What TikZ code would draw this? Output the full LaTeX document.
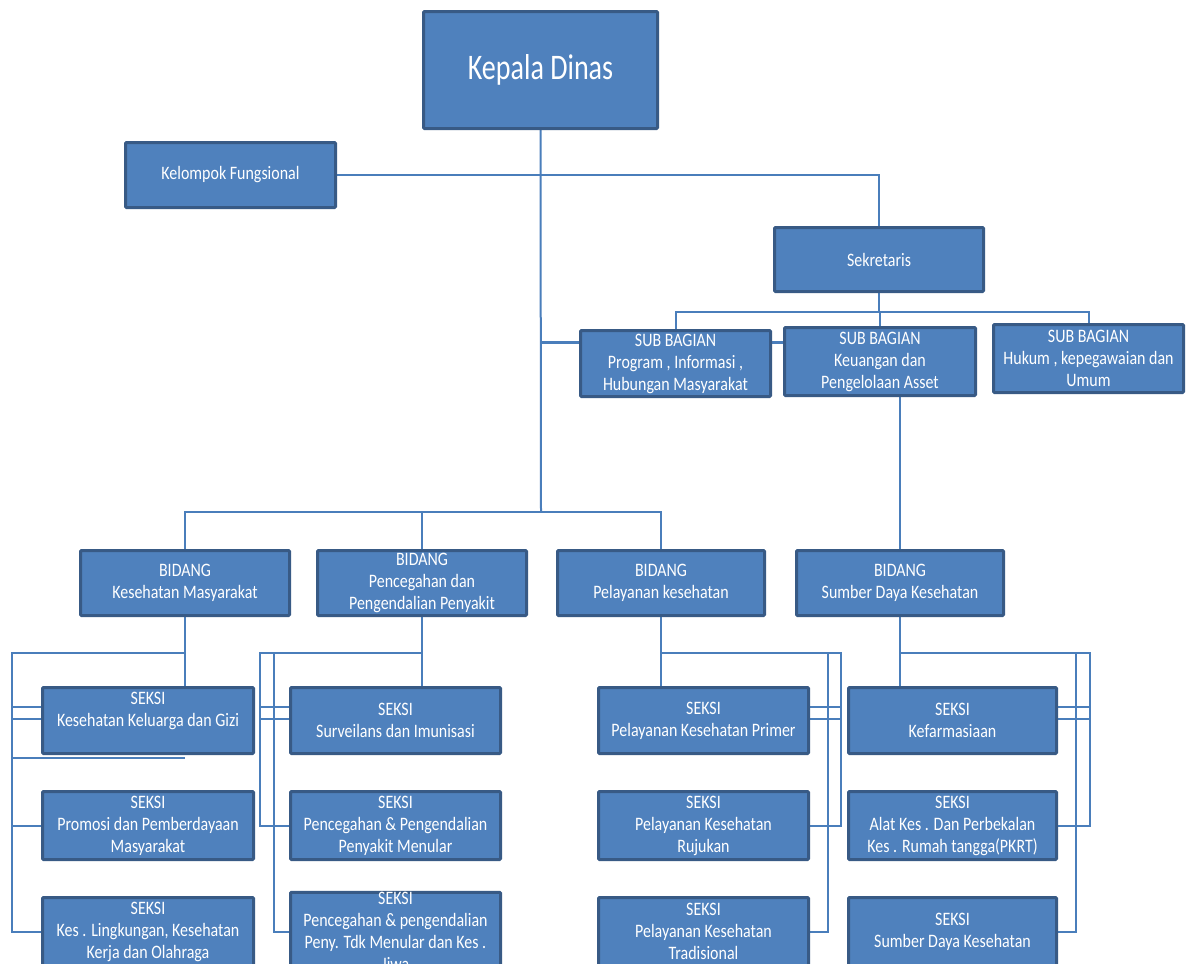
\documentclass[tikz,border=0pt]{standalone}
\usepackage{fontspec}
\setmainfont[FakeStretch=0.84]{Carlito}
\newfontfamily\bigfont[FakeStretch=0.78]{Carlito}
\pgfdeclarelayer{paper}
\pgfdeclarelayer{bg}
\pgfsetlayers{paper,bg,main}
\definecolor{boxfill}{HTML}{4F81BD}
\definecolor{boxline}{HTML}{385A85}
\definecolor{connc}{HTML}{4A7EBB}
\tikzset{
  box/.style={draw=boxline, line width=3pt, fill=boxfill, text=white, align=center,
    inner sep=0pt, rounded corners=1pt, font=\fontsize{19}{22}\selectfont},
  conn/.style={draw=connc, line width=2pt},
}
\begin{document}
\begin{tikzpicture}[x=1pt,y=-1pt]
\useasboundingbox (0,0) rectangle (1187,964);
\clip (0,0) rectangle (1187,964);
\begin{pgfonlayer}{paper}
\fill[white] (0,0) rectangle (1187,964);
\end{pgfonlayer}

% top level
\node[box, minimum width=234pt, minimum height=117pt, font=\bigfont\fontsize{36}{40}\selectfont] (kd) at (540.5,70) {Kepala Dinas};
\node[box, minimum width=210pt, minimum height=65pt] (kf) at (230.5,175) {Kelompok Fungsional};
\node[box, minimum width=209pt, minimum height=64pt] (sek) at (879,259.5) {Sekretaris};

% sub bagian
\node[box, minimum width=190pt, minimum height=66pt] (sb1) at (675.5,363.5) {SUB BAGIAN\\Program , Informasi ,\\Hubungan Masyarakat};
\node[box, minimum width=191pt, minimum height=68pt] (sb2) at (880,361.5) {SUB BAGIAN\\Keuangan dan\\Pengelolaan Asset};
\node[box, minimum width=190pt, minimum height=68pt] (sb3) at (1088.5,358.5) {SUB BAGIAN\\Hukum , kepegawaian dan\\Umum};

% bidang
\node[box, minimum width=209pt, minimum height=65pt] (b1) at (185,583) {BIDANG\\Kesehatan Masyarakat};
\node[box, minimum width=209pt, minimum height=65pt] (b2) at (422,583) {BIDANG\\Pencegahan dan\\Pengendalian Penyakit};
\node[box, minimum width=207pt, minimum height=65pt] (b3) at (661,583) {BIDANG\\Pelayanan kesehatan};
\node[box, minimum width=207pt, minimum height=65pt] (b4) at (900,583) {BIDANG\\Sumber Daya Kesehatan};

% seksi column 1
\node[box, minimum width=211pt, minimum height=66pt] (s11) at (148,720.5) {SEKSI\\Kesehatan Keluarga dan Gizi\\\mbox{}};
\node[box, minimum width=211pt, minimum height=68pt] (s12) at (148,825.5) {SEKSI\\Promosi dan Pemberdayaan\\Masyarakat};
\node[box, minimum width=211pt, minimum height=68pt] (s13) at (148,931.5) {SEKSI\\Kes . Lingkungan, Kesehatan\\Kerja dan Olahraga};
% seksi column 2
\node[box, minimum width=210pt, minimum height=66pt] (s21) at (395.5,720.5) {SEKSI\\Surveilans dan Imunisasi};
\node[box, minimum width=210pt, minimum height=68pt] (s22) at (395.5,825.5) {SEKSI\\Pencegahan \& Pengendalian\\Penyakit Menular};
\node[box, minimum width=210pt, minimum height=68pt] (s23) at (395.5,931.5) {SEKSI\\Pencegahan \& pengendalian\\Peny. Tdk Menular dan Kes .\\Jiwa};
% seksi column 3
\node[box, minimum width=210pt, minimum height=66pt] (s31) at (703.5,720.5) {SEKSI\\Pelayanan Kesehatan Primer};
\node[box, minimum width=210pt, minimum height=68pt] (s32) at (703.5,825.5) {SEKSI\\Pelayanan Kesehatan\\Rujukan};
\node[box, minimum width=210pt, minimum height=68pt] (s33) at (703.5,931.5) {SEKSI\\Pelayanan Kesehatan\\Tradisional};
% seksi column 4
\node[box, minimum width=208pt, minimum height=66pt] (s41) at (952.5,720.5) {SEKSI\\Kefarmasiaan};
\node[box, minimum width=208pt, minimum height=68pt] (s42) at (952.5,825.5) {SEKSI\\Alat Kes . Dan Perbekalan\\Kes . Rumah tangga(PKRT)};
\node[box, minimum width=208pt, minimum height=68pt] (s43) at (952.5,931.5) {SEKSI\\Sumber Daya Kesehatan};

% helper coordinates
\coordinate (bbus) at (541,512);
\coordinate (sbus) at (879,312);
\coordinate (tj) at (541,342);
\coordinate (k1) at (12,653);
\coordinate (k2a) at (260,653);
\coordinate (k2b) at (274,653);
\coordinate (k3a) at (841,653);
\coordinate (k3b) at (828,653);
\coordinate (k4a) at (1090,653);
\coordinate (k4b) at (1076,653);

\begin{pgfonlayer}{bg}
% top structure
\draw[conn] (kd.south) -- (bbus);
\draw[conn] (kf.east) -| (sek.north);
\draw[conn] (sek.south) -- (sbus);
\draw[conn] (sb1.north) |- (sbus) -| (sb3.north);
\draw[conn] (sb2.north) -- (sb2.north |- sbus);
\draw[conn, line width=3pt] (tj) -- (tj -| sb2.west);
\draw[conn] (b4.north) -- (b4.north |- sb2.south);
% bidang bus
\draw[conn] (b1.north) |- (bbus) -| (b3.north);
\draw[conn] (b2.north) -- (b2.north |- bbus);

% column 1
\draw[conn] (b1.south) -- (b1.south |- s11.north);
\draw[conn] (b1.south |- k1) -- (k1) |- (s13.west);
\draw[conn] (k1 |- s12.west) -- (s12.west);
\draw[conn] (k1 |- 0,707) -- (s11.west |- 0,707);
\draw[conn] (k1 |- 0,719) -- (s11.west |- 0,719);
\draw[conn] (k1 |- 0,758) -- (b1.south |- 0,758);

% column 2
\draw[conn] (b2.south) -- (b2.south |- s21.north);
\draw[conn] (b2.south |- k2a) -- (k2a) |- (s22.west);
\draw[conn] (k2b) |- (s23.west);
\draw[conn] (k2a |- 0,707) -- (s21.west |- 0,707);
\draw[conn] (k2a |- 0,719) -- (s21.west |- 0,719);

% column 3
\draw[conn] (b3.south) -- (b3.south |- s31.north);
\draw[conn] (b3.south |- k3a) -- (k3a) |- (s32.east);
\draw[conn] (k3b) |- (s33.east);
\draw[conn] (s31.east |- 0,707) -- (k3a |- 0,707);
\draw[conn] (s31.east |- 0,719) -- (k3a |- 0,719);

% column 4
\draw[conn] (b4.south) -- (b4.south |- s41.north);
\draw[conn] (b4.south |- k4a) -- (k4a) |- (s42.east);
\draw[conn] (k4b) |- (s43.east);
\draw[conn] (s41.east |- 0,707) -- (k4a |- 0,707);
\draw[conn] (s41.east |- 0,719) -- (k4a |- 0,719);
\end{pgfonlayer}
\end{tikzpicture}
\end{document}
